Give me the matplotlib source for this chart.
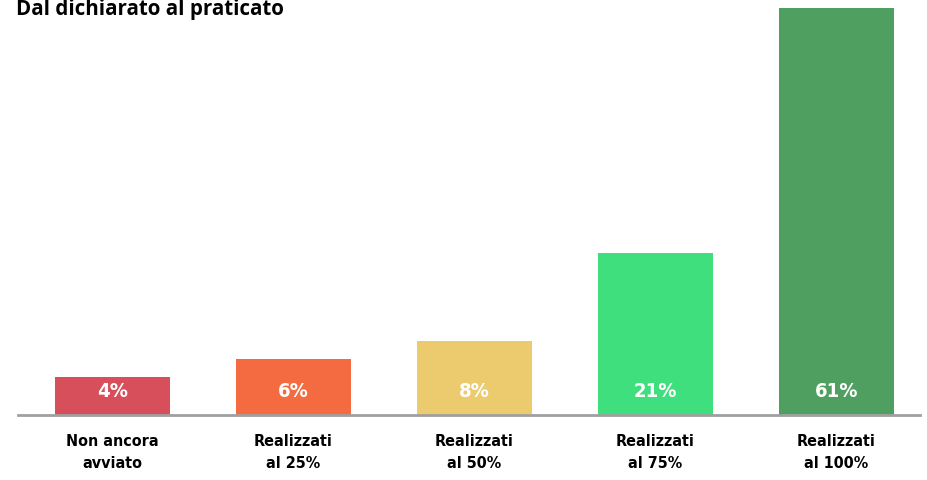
import matplotlib
matplotlib.use("Agg")
from matplotlib import pyplot as plt

# data
categories = ["Non ancora\navviato", "Realizzati\nal 25%", "Realizzati\nal 50%",
              "Realizzati\nal 75%", "Realizzati\nal 100%"]
value_labels = ["4%", "6%", "8%", "21%", "61%"]
# bar heights as drawn (the source chart does not scale them strictly to the labels)
bar_heights = [5.7, 8.4, 11.1, 24.3, 61.0]
colors = ["#D64F5B", "#F46B41", "#ECCB6E", "#3EDF7C", "#4FA060"]

title = "Dal dichiarato al praticato"

fig = plt.figure(figsize=(9.28, 4.81), dpi=100)
ax = fig.add_axes([18 / 928, 65 / 481, 902 / 928, 407 / 481])

x = list(range(len(categories)))
ax.bar(x, bar_heights, width=0.635, color=colors, zorder=2)

for xi, lab in zip(x, value_labels):
    ax.text(xi, 3.6, lab, ha="center", va="center", color="white",
            fontsize=14.5, fontweight="bold", family="DejaVu Sans",
            fontstretch="condensed")

ax.set_xlim(-0.522, 4.461)
ax.set_ylim(0, 61)
ax.set_yticks([])
ax.set_xticks(x)
ax.set_xticklabels(categories, fontsize=11.5, fontweight="bold",
                   family="DejaVu Sans", fontstretch="condensed",
                   linespacing=1.62)
ax.tick_params(axis="x", length=0, pad=13)
for s in ["top", "right", "left"]:
    ax.spines[s].set_visible(False)
ax.spines["bottom"].set_color("#A0A0A0")
ax.spines["bottom"].set_linewidth(2)
ax.spines["bottom"].set_zorder(3)

fig.text(16 / 928, 1 - 15 / 481, title, ha="left", va="baseline",
         fontsize=14.8, fontweight="bold", family=["Open Sans", "DejaVu Sans"])

fig.savefig("out.png", dpi=100)
